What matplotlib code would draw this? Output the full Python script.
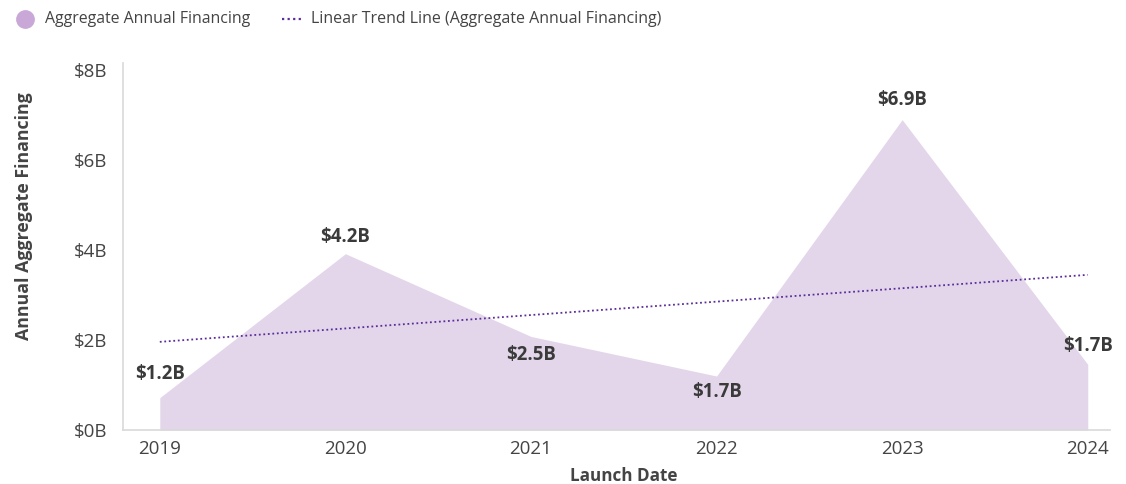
import matplotlib
matplotlib.use("Agg")
import matplotlib.pyplot as plt
from matplotlib.lines import Line2D

plt.rcParams['font.family'] = ['Open Sans', 'DejaVu Sans']

years = [2019, 2020, 2021, 2022, 2023, 2024]
financing = [0.72, 3.92, 2.08, 1.20, 6.90, 1.46]          # $B, plotted area
value_labels = ["$1.2B", "$4.2B", "$2.5B", "$1.7B", "$6.9B", "$1.7B"]
trend_years = [2019, 2024]
trend_values = [1.96, 3.45]
y_ticks = [0, 2, 4, 6, 8]
y_tick_labels = ["$0B", "$2B", "$4B", "$6B", "$8B"]
legend_labels = ["Aggregate Annual Financing", "Linear Trend Line (Aggregate Annual Financing)"]

# label offsets in pixels (style)
label_offsets = [24, 17, -18.5, -16, 20, 18.6]

fill_color = "#e3d6ea"
legend_dot = "#c9a8d8"
trend_color = "#5b2d9a"
text_color = "#444444"

W, H = 1126, 484
fig = plt.figure(figsize=(W / 100, H / 100), dpi=100)
ax = fig.add_axes([122.7 / W, 1 - 430 / H, (1110 - 122.7) / W, (430 - 63) / H])

ax.fill_between(years, financing, 0, color=fill_color, linewidth=0)
ax.plot(trend_years, trend_values, color=trend_color, linestyle=(0, (1, 1.5)), linewidth=1.3)

for x, y, lab, off in zip(years, financing, value_labels, label_offsets):
    ax.annotate(lab, (x, y), xytext=(0, off), textcoords="offset pixels",
                ha="center", va="center", fontsize=13.4, fontweight="bold", color="#3a3a3a")

ax.set_xlim(2018.8, 2024.12)
ax.set_ylim(0, 8.16)
ax.set_xticks(years)
ax.set_xticklabels([str(y) for y in years])
ax.set_yticks(y_ticks)
ax.set_yticklabels(y_tick_labels)
ax.tick_params(length=0, labelsize=13.5, colors=text_color)
ax.tick_params(axis='x', pad=7.5)
ax.tick_params(axis='y', pad=11)
for s in ["top", "right"]:
    ax.spines[s].set_visible(False)
for s in ["left", "bottom"]:
    ax.spines[s].set_color("#d9d9d9")
    ax.spines[s].set_linewidth(1.2)

def px(x, y):
    return x / W, 1 - y / H

fig.text(*px(623.5, 476), "Launch Date", fontsize=12.3, fontweight="bold",
         color=text_color, ha="center", va="center")
fig.text(*px(24, 216), "Annual Aggregate Financing", fontsize=12.8, fontweight="bold",
         color=text_color, ha="center", va="center", rotation=90)

# legend
fig.add_artist(Line2D([px(25, 0)[0]], [px(0, 18.5)[1]], marker="o", markersize=12.5,
                      color=legend_dot, linestyle="none", transform=fig.transFigure))
fig.text(*px(45, 19), legend_labels[0], fontsize=11.4, color=text_color, ha="left", va="center")
fig.add_artist(Line2D([px(282, 0)[0], px(301, 0)[0]], [px(0, 19)[1]] * 2, color=trend_color,
                      linestyle=(0, (1, 1.5)), linewidth=1.6, transform=fig.transFigure))
fig.text(*px(311, 19), legend_labels[1], fontsize=11.5, color=text_color, ha="left", va="center")

fig.savefig("out.png", dpi=100)
